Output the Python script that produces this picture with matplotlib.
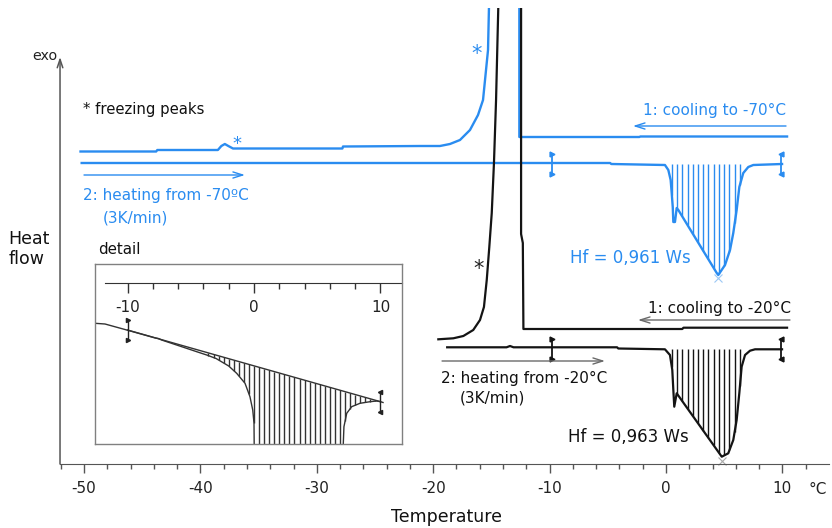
import numpy as np
import matplotlib.pyplot as plt

plt.rcParams['font.family'] = 'DejaVu Sans'
plt.rcParams['axes.unicode_minus'] = False

BLUE = '#2a8cf0'
INK = '#141414'
GREY = '#6a6a6a'

# --- run to -70 °C (blue) ---
# cooling, recorded from +10 °C downwards; the freezing exotherm runs off scale
cool70_t = [10.4, -2.2, -2.3, -12.6, -12.6, -15.1, -15.21, -15.29, -15.72, -16.15, -16.84,
            -17.70, -18.56, -19.42, -21.13, -27.75, -27.8, -37.2, -37.6, -37.9, -38.2,
            -38.5, -43.7, -43.8, -50.3]
cool70_hf = [3.275, 3.275, 3.27, 3.27, 6.0, 6.0, 4.56, 4.14, 3.64, 3.49, 3.34,
             3.24, 3.20, 3.18, 3.18, 3.175, 3.155, 3.155, 3.18, 3.20, 3.18,
             3.14, 3.14, 3.125, 3.125]
# heating at 3 K/min with the ice melting peak
heat70_t = [-50.2, -4.8, -4.7, -0.09, 0.20, 0.40, 0.49, 0.58, 0.63, 0.77, 0.92, 1.06,
            4.36, 4.49, 5.07, 5.50, 5.78, 6.07, 6.30, 6.64, 7.07, 7.50, 9.97]
heat70_hf = [3.01, 3.01, 3.0, 2.99, 2.94, 2.84, 2.71, 2.57, 2.42, 2.42, 2.56, 2.54,
             1.91, 1.89, 1.99, 2.14, 2.31, 2.54, 2.77, 2.91, 2.97, 2.99, 3.0]
base70 = 3.0

# --- run to -20 °C (black) ---
cool20_t = [10.4, 1.5, 1.4, -12.25, -12.3, -12.45, -12.45, -14.35, -14.41, -14.60, -14.78,
            -14.97, -15.18, -15.40, -15.64, -15.98, -16.56, -17.41, -18.27, -19.56]
cool20_hf = [1.363, 1.363, 1.35, 1.35, 2.21, 2.30, 6.0, 6.0, 4.56, 3.64, 3.01,
             2.51, 2.17, 1.84, 1.57, 1.44, 1.34, 1.28, 1.257, 1.247]
heat20_t = [-18.8, -13.7, -13.4, -13.1, -4.2, -4.1, -0.09, 0.34, 0.54, 0.63, 0.71, 0.92,
            4.79, 5.35, 5.78, 6.07, 6.30, 6.50, 6.79, 7.22, 7.65, 9.97]
heat20_hf = [1.167, 1.167, 1.18, 1.167, 1.167, 1.155, 1.147, 1.09, 0.94, 0.74, 0.573, 0.707,
             0.073, 0.107, 0.24, 0.44, 0.71, 0.973, 1.09, 1.133, 1.147, 1.147]
base20 = 1.15

# integration limits of the melting peaks
limits = [-9.8, 9.9]

# --- detail of the melting onset ---
det_t = [-12.57, -11.78, -10.06, -7.8, -7.56, -7.3, -4.53, -3.74, -3.0, -2.0, -1.37, -0.71,
         -0.32, -0.10, 0.0, 0.05, 7.0, 7.06, 7.11, 7.33, 7.72, 8.38, 9.17, 9.70, 10.0, 10.2]
det_hf = [1.207, 1.20, 1.14, 1.06, 1.055, 1.04, 0.923, 0.89, 0.855, 0.78, 0.707, 0.607,
          0.473, 0.34, 0.21, -0.5, -0.5, 0.007, 0.173, 0.307, 0.373, 0.407, 0.423, 0.43, 0.423, 0.415]
det_base_t = [-10, 10]
det_base_hf = [1.14, 0.423]

fig = plt.figure(figsize=(8.32, 5.28), dpi=100)
ax = fig.add_axes([0, 0, 1, 520 / 528])
ax.set_xlim(-666 / 11.64, 166 / 11.64)
ax.set_ylim(-0.64, 4.56)
ax.patch.set_alpha(0)

for s in ['top', 'right', 'left']:
    ax.spines[s].set_visible(False)
ax.spines['bottom'].set_position(('data', 0))
ax.spines['bottom'].set_bounds(-52.06, 14.0)
ax.spines['bottom'].set_color('#555555')
ax.set_yticks([])
ax.set_xticks(np.arange(-50, 11, 10))
ax.set_xticks(np.arange(-52, 13, 2), minor=True)
ax.tick_params(axis='x', which='major', direction='out', length=6.5, width=1,
               color='#555555', labelsize=11, pad=5.5, labelcolor='#222222')
ax.tick_params(axis='x', which='minor', direction='out', length=3.5, width=1, color='#555555')

# y axis arrow
ax.annotate('', xy=(-52.06, 4.07), xytext=(-52.06, 0),
            arrowprops=dict(arrowstyle='->,head_length=0.6,head_width=0.2', color='#555555',
                            lw=1.1, shrinkA=0, shrinkB=0))
ax.text(-52.3, 4.08, 'exo', ha='right', va='center', fontsize=10.3, color='#222222')
ax.text(-56.5, 2.15, 'Heat\nflow', ha='left', va='center', fontsize=12.5,
        linespacing=1.1, color='#111111')
ax.text(-18.9, -0.53, 'Temperature', ha='center', va='center', fontsize=12.5, color='#111111')
ax.text(13.06, -0.26, '°C', ha='center', va='center', fontsize=11, color='#222222')


def hatch(t, hf, base, lo, hi, step, color, axis):
    xs = np.arange(lo, hi, step)
    ys = np.interp(xs, t, hf)
    if np.ndim(base) == 0:
        b = np.full_like(xs, base)
    else:
        b = np.interp(xs, base[0], base[1])
    axis.vlines(xs, ys, b, color=color, lw=1.0)


# curves
ax.plot(cool70_t, cool70_hf, color=BLUE, lw=1.7, solid_joinstyle='round')
ax.plot(heat70_t, heat70_hf, color=BLUE, lw=1.7, solid_joinstyle='round')
ax.plot(cool20_t, cool20_hf, color=INK, lw=1.6, solid_joinstyle='round')
ax.plot(heat20_t, heat20_hf, color=INK, lw=1.6, solid_joinstyle='round')

hatch(heat70_t, heat70_hf, base70, 0.5, 6.5, 0.45, BLUE, ax)
hatch(heat20_t, heat20_hf, base20, 0.5, 6.6, 0.45, INK, ax)

# integration limit marks
for base, col in [(base70, BLUE), (base20, INK)]:
    for lim, m in zip(limits, ['>', '<']):
        ax.plot([lim, lim], [base - 0.1, base + 0.1], color=col, lw=1.3)
        ax.plot([lim, lim], [base - 0.1, base + 0.1], ls='none', marker=m, ms=3.5, color=col)

# peak minima
i70 = int(np.argmin(heat70_hf))
i20 = int(np.argmin(heat20_hf))
ax.plot(heat70_t[i70], heat70_hf[i70] - 0.03, marker='x', ms=6, mew=0.8, color='#9cc8f5')
ax.plot(heat20_t[i20], heat20_hf[i20] - 0.04, marker='x', ms=6, mew=0.8, color='#aaaaaa')

# direction arrows
arr = '->,head_length=0.7,head_width=0.22'
ax.annotate('', xy=(-2.84, 3.38), xytext=(10.31, 3.38),
            arrowprops=dict(arrowstyle=arr, color=BLUE, lw=1.0, shrinkA=0, shrinkB=0))
ax.annotate('', xy=(-36.17, 2.89), xytext=(-50.0, 2.89),
            arrowprops=dict(arrowstyle=arr, color=BLUE, lw=1.0, shrinkA=0, shrinkB=0))
ax.annotate('', xy=(-2.41, 1.44), xytext=(10.65, 1.44),
            arrowprops=dict(arrowstyle=arr, color=GREY, lw=1.0, shrinkA=0, shrinkB=0))
ax.annotate('', xy=(-5.24, 1.03), xytext=(-19.24, 1.03),
            arrowprops=dict(arrowstyle=arr, color=GREY, lw=1.0, shrinkA=0, shrinkB=0))

# labels
fs = 11
ax.text(-50.09, 3.54, '* freezing peaks', fontsize=10.7, va='center', color='#111111')
ax.text(-1.98, 3.54, '1: cooling to -70°C', fontsize=fs, va='center', color=BLUE)
ax.text(-50.09, 2.68, '2: heating from -70ºC', fontsize=fs, va='center', color=BLUE)
ax.text(-48.37, 2.46, '(3K/min)', fontsize=fs, va='center', color=BLUE)
ax.text(-8.25, 2.06, 'Hf = 0,961 Ws', fontsize=12, va='center', color=BLUE)
ax.text(-1.55, 1.56, '1: cooling to -20°C', fontsize=fs, va='center', color='#111111')
ax.text(-19.33, 0.86, '2: heating from -20°C', fontsize=fs, va='center', color='#111111')
ax.text(-17.70, 0.66, '(3K/min)', fontsize=fs, va='center', color='#111111')
ax.text(-8.42, 0.27, 'Hf = 0,963 Ws', fontsize=12, va='center', color='#111111')
ax.text(-48.8, 2.14, 'detail', fontsize=10.8, va='center', color='#111111')
ax.text(-16.26, 4.10, '*', fontsize=15, ha='center', va='center', color=BLUE)
ax.text(-16.13, 1.95, '*', fontsize=15, ha='center', va='center', color='#222222')
ax.text(-36.88, 3.20, '*', fontsize=13, ha='center', va='center', color=BLUE)

# inset: melting onset in detail
axi = fig.add_axes([95 / 832, (528 - 444) / 528, 307 / 832, 180 / 528])
axi.set_xlim(-12.57, 11.70)
axi.set_ylim(0, 1.8)
axi.set_xticks([])
axi.set_yticks([])
for s in axi.spines.values():
    s.set_color('#808080')
    s.set_linewidth(1.0)

axi.plot(det_t, det_hf, color='#333333', lw=1.0)
axi.plot(det_base_t, det_base_hf, color='#333333', lw=1.0)
hatch(det_t, det_hf, (det_base_t, det_base_hf), -3.6, 9.7, 0.4, '#333333', axi)
for lim, hf, m in zip(det_base_t, det_base_hf, ['>', '<']):
    axi.plot([lim, lim], [hf - 0.1, hf + 0.1], color='#222222', lw=1.0)
    axi.plot([lim, lim], [hf - 0.1, hf + 0.1], ls='none', marker=m, ms=3, color='#222222')

sec = axi.secondary_xaxis((444 - 283) / 180)
sec.set_alignment('bottom')
sec.spines['bottom'].set_bounds(-11.78, 11.70)
sec.spines['bottom'].set_color('#333333')
sec.set_xticks([-10, 0, 10])
sec.set_xticks(np.arange(-10, 11, 2), minor=True)
sec.tick_params(axis='x', which='major', direction='out', length=7, width=1,
                color='#333333', labelsize=11, pad=5, labelcolor='#222222')
sec.tick_params(axis='x', which='minor', direction='out', length=4, width=1, color='#333333')

fig.savefig('out.png', dpi=100)
